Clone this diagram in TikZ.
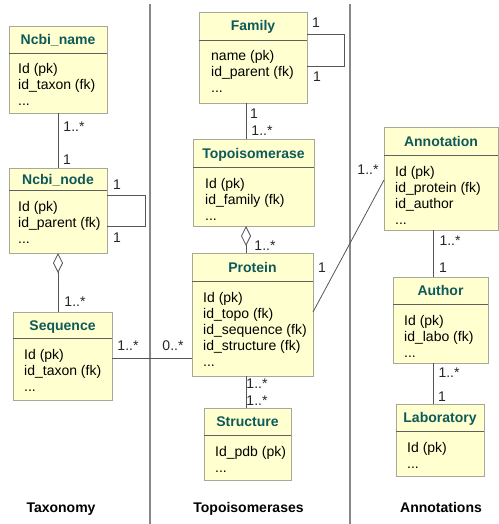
\documentclass[tikz,border=0pt]{standalone}
\usepackage{fontspec}
\setmainfont{Liberation Sans}
\usetikzlibrary{arrows.meta,calc}
\definecolor{boxfill}{HTML}{FFFFD0}
\definecolor{boxborder}{HTML}{A8A898}
\definecolor{divline}{HTML}{606060}
\definecolor{titlecol}{HTML}{0E5A5A}
\definecolor{conncol}{HTML}{555555}
\definecolor{sepcol}{HTML}{888888}
\newcommand\ddd{...}
% #1 name, #2 x, #3 y(top, px down), #4 w, #5 h, #6 header height, #7 text x offset, #8 title, #9 lines
\newcommand\umlclass[9]{%
  \node[classbox, minimum width=#4pt, minimum height=#5pt] (#1) at (#2pt,-#3pt) {};
  \draw[divline, line width=0.8pt] ([yshift=-#6pt]#1.north west) -- ([yshift=-#6pt]#1.north east);
  \node[classtitle] (#1-title) at ([yshift=-#6pt/2]#1.north) {#8};
  \foreach \t [count=\i] in {#9}
    \node[attr] (#1-\i) at ([xshift=#7pt, yshift=-#6pt-21pt-16pt*(\i-1)]#1.north west) {\t};
}
\begin{document}
\begin{tikzpicture}[x=1pt,y=1pt,
  classbox/.style={draw=boxborder, fill=boxfill, line width=0.8pt, anchor=north west, inner sep=0pt, outer sep=0pt},
  classtitle/.style={font=\fontsize{14}{16}\selectfont\bfseries, text=titlecol, inner sep=0pt, text height=10pt, text depth=0pt},
  attr/.style={font=\fontsize{14}{16}\selectfont, text=black, anchor=base west, inner sep=0pt},
  conn/.style={draw=conncol, line width=0.8pt},
  mult/.style={font=\fontsize{14}{16}\selectfont, text=black!85, inner sep=0pt},
  section/.style={font=\fontsize{14}{16}\selectfont\bfseries, text=black, anchor=base, inner sep=0pt},
  sep/.style={draw=sepcol, line width=1.3pt}]
\useasboundingbox (0,0) rectangle (498,-524);

% separators
\coordinate (s1t) at (150,-4); \coordinate (s1b) at (150,-524);
\coordinate (s2t) at (350,-4); \coordinate (s2b) at (350,-524);
\draw[sep] (s1t) -- (s1b);
\draw[sep] (s2t) -- (s2b);

% classes
\umlclass{ncbiname}{9}{26}{98}{87}{27}{9}{Ncbi\_name}{Id (pk), id\_taxon (fk), \ddd}
\umlclass{ncbinode}{9}{168}{98}{85}{22}{9}{Ncbi\_node}{Id (pk), id\_parent (fk), \ddd}
\umlclass{sequence}{13}{312}{99}{88}{26}{11}{Sequence}{Id (pk), id\_taxon (fk), \ddd}
\umlclass{family}{199}{12}{108}{91}{28}{12}{Family}{name (pk), id\_parent (fk), \ddd}
\umlclass{topo}{193}{139}{121}{87}{28}{12}{Topoisomerase}{Id (pk), id\_family (fk), \ddd}
\umlclass{protein}{192}{253}{121}{123}{28}{11}{Protein}{Id (pk), id\_topo (fk), id\_sequence (fk), id\_structure (fk), \ddd}
\umlclass{structure}{204}{408}{87}{72}{27}{11}{Structure}{Id\_pdb (pk), \ddd}
\umlclass{annotation}{384}{127}{114}{103}{28}{11}{Annotation}{Id (pk), id\_protein (fk), id\_author, \ddd}
\umlclass{author}{393}{277}{95}{86}{27}{11}{Author}{Id (pk), id\_labo (fk), \ddd}
\umlclass{lab}{396}{404}{88}{72}{27}{11}{Laboratory}{Id (pk), \ddd}

% connectors
\draw[conn] (ncbiname.south) -- (ncbinode.north);
\draw[conn] ([yshift=-27pt]ncbinode.north east) -- ++(38,0) |- ([yshift=-58pt]ncbinode.north east);
\draw[conn, {Diamond[open, length=20pt, width=10pt]}-] (ncbinode.south) -- (ncbinode.south |- sequence.north);
\draw[conn] ([yshift=-2pt]sequence.east) -- ([yshift=-2pt]sequence.east -| protein.west);
\draw[conn] ([yshift=-22pt]family.north east) -- ++(37,0) |- ([yshift=-54pt]family.north east);
\draw[conn] ([xshift=-7pt]family.south) -- ([xshift=-7pt]family.south |- topo.north);
\draw[conn, {Diamond[open, length=20pt, width=10pt]}-] ([xshift=-7.5pt]topo.south) -- ([xshift=-7.5pt]topo.south |- protein.north);
\draw[conn] ([xshift=-6.5pt]protein.south) -- ([xshift=-6.5pt]protein.south |- structure.north);
\draw[conn] ([yshift=-59pt]protein.north east) -- ([yshift=-53pt]annotation.north west);
\draw[conn] ([xshift=-8pt]annotation.south) -- ([xshift=-8pt]annotation.south |- author.north);
\draw[conn] ([xshift=-7.5pt]author.south) -- ([xshift=-7.5pt]author.south |- lab.north);

% multiplicities
\node[mult] (m1) at (74,-127) {1..*};
\node[mult] (m2) at (67,-160) {1};
\node[mult] (m3) at (117,-185) {1};
\node[mult] (m4) at (117,-238) {1};
\node[mult] (m5) at (75,-302) {1..*};
\node[mult] (m6) at (128,-346) {1..*};
\node[mult] (m7) at (173,-346) {0..*};
\node[mult] (m8) at (316,-23) {1};
\node[mult] (m9) at (317,-77) {1};
\node[mult] (m10) at (254,-114) {1};
\node[mult] (m11) at (262,-131) {1..*};
\node[mult] (m12) at (265,-246) {1..*};
\node[mult] (m13) at (322,-268) {1};
\node[mult] (m14) at (368,-170) {1..*};
\node[mult] (m15) at (257,-384) {1..*};
\node[mult] (m16) at (257,-401) {1..*};
\node[mult] (m17) at (450,-241) {1..*};
\node[mult] (m18) at (443,-268) {1};
\node[mult] (m19) at (449,-373) {1..*};
\node[mult] (m20) at (442,-397) {1};

% section titles
\node[section] (sec1) at (61,-512) {Taxonomy};
\node[section] (sec2) at (248.5,-512) {Topoisomerases};
\node[section] (sec3) at (441,-512) {Annotations};
\end{tikzpicture}
\end{document}
